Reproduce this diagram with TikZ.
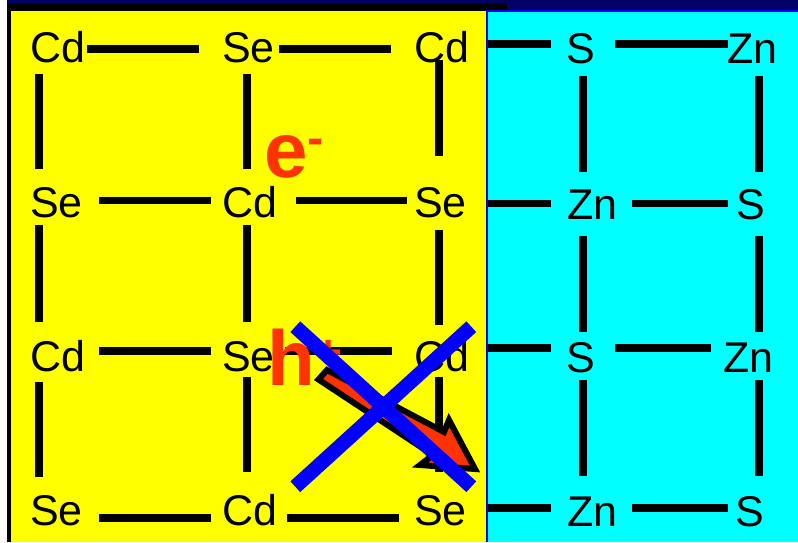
\documentclass[tikz,border=0pt]{standalone}
\usepackage{fontspec}
\setmainfont{Liberation Sans}
\definecolor{navy}{RGB}{0,0,102}
\definecolor{hot}{RGB}{255,51,0}
\definecolor{xblue}{RGB}{0,0,255}
\definecolor{yel}{RGB}{255,255,0}
\definecolor{cya}{RGB}{0,255,255}
\begin{document}
\begin{tikzpicture}[x=1pt,y=-1pt,
  bond/.style={line width=7.5pt, black},
  atom/.style={anchor=base west, inner sep=0pt, font=\fontsize{43}{43}\selectfont},
  carrier/.style={anchor=base west, inner sep=0pt, text=hot, font=\bfseries\fontsize{78}{78}\selectfont},
  supchar/.style={anchor=base west, inner sep=0pt, text=hot, font=\bfseries\fontsize{48}{48}\selectfont},
  cross/.style={line width=14.5pt, xblue},
  flow/.style={line width=6pt, line join=miter, draw=black, fill=hot}]
\useasboundingbox (0,0) rectangle (798,542);
% backgrounds
\fill[white] (0,0) rectangle (798,542);
\fill[navy] (7,0) rectangle (798,10.7);
\fill[black] (7,3.3) rectangle (507,10.7);
\fill[black] (7,3.3) rectangle (11,542);
\fill[yel] (11,11.3) rectangle (486.5,542);
\fill[cya] (486.5,11.3) rectangle (798,542);
\draw[xblue, line width=2pt] (487.3,542) -- (487.3,11.3) -- (798,11.3);
% horizontal bonds
\foreach \xa/\xb/\yy in {87/199/49, 279/391/49, 99/211/200.5, 296/407/200.5,
   99/211/351, 285/392/351, 99/211/518, 287/399/518,
   488/551/44, 615/728/44, 488/551/203.5, 632/728/203.5,
   488/551/348, 615/711/348, 488/551/508, 632/728/508}
  \draw[bond] (\xa,\yy) -- (\xb,\yy);
% vertical bonds
\foreach \xx/\ya/\yb in {39/74/169, 39/225/322, 39/382/477,
   247/74/169, 247/225/322, 247/377/472,
   439/60/156, 439/230/325, 439/377/472,
   583/76/172, 583/236/332, 583/380/476,
   759/76/172, 759/236/332, 759/380/476}
  \draw[bond] (\xx,\ya) -- (\xx,\yb);
% atoms
\node[atom] (a11) at (29.9,62.5) {Cd};
\node[atom] (a12) at (222.1,62.5) {Se};
\node[atom] (a13) at (413.9,62.5) {Cd};
\node[atom] (a14) at (566.1,63) {S};
\node[atom] (a15) at (727.1,63) {Zn};
\node[atom] (a21) at (30.1,217.5) {Se};
\node[atom] (a22) at (221.9,217.5) {Cd};
\node[atom] (a23) at (414.1,217.5) {Se};
\node[atom] (a24) at (567.1,219.5) {Zn};
\node[atom] (a25) at (736.1,219.5) {S};
\node[atom] (a31) at (29.9,371.5) {Cd};
\node[atom] (a32) at (222.1,371.5) {Se};
\node[atom] (a33) at (413.9,371.5) {Cd};
\node[atom] (a34) at (566.1,372) {S};
\node[atom] (a35) at (723.1,372) {Zn};
\node[atom] (a41) at (30.1,525) {Se};
\node[atom] (a42) at (221.9,525) {Cd};
\node[atom] (a43) at (414.1,525) {Se};
\node[atom] (a44) at (567.1,526) {Zn};
\node[atom] (a45) at (735.1,526) {S};
% carriers
\node[carrier] (el) at (264.3,177.3) {e};
\node[supchar] (elm) at (307,154.4) {-};
\node[carrier] (ho) at (267,385) {h};
\node[supchar] (hop) at (314,368) {+};
% arrow
\draw[flow] (318.5,379.5) -- (327,370) -- (444,432) -- (449,420) -- (475,469)
   -- (420,465) -- (433,455) -- cycle;
% blue cross
\draw[cross] (295.3,326.7) -- (471.3,486.7);
\draw[cross] (471.3,326.7) -- (295.3,486.7);
\end{tikzpicture}
\end{document}
